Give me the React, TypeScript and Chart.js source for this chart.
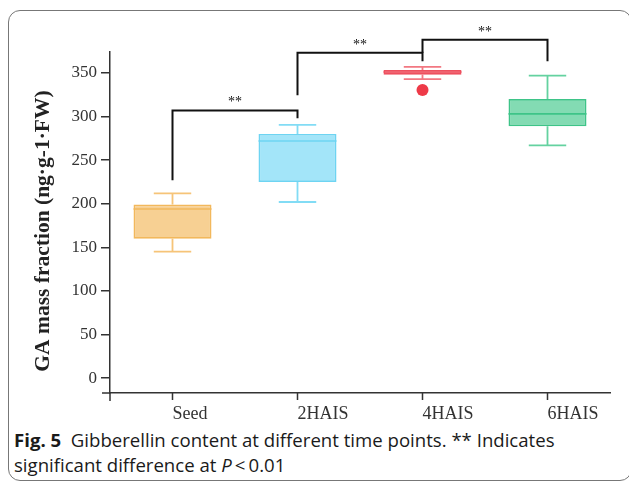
import React, { useEffect, useRef } from "react";
import { Chart, registerables } from "chart.js";

Chart.register(...registerables);

const categories = ["Seed", "2HAIS", "4HAIS", "6HAIS"];
const whiskerLow = [145, 202, 343, 267];
const q1 = [160, 225, 348, 289];
const median = [194, 272, 351, 303];
const q3 = [199, 280, 353.5, 320];
const whiskerHigh = [212, 290.5, 357, 347];
const outlierValues = [null, null, 330.5, null];
const yTicks = [0, 50, 100, 150, 200, 250, 300, 350];

// significance brackets (category indices and values in data units)
const bracketFrom = [0, 1, 2];
const bracketTo = [1, 2, 3];
const bracketTop = [307, 373, 388];
const bracketLeftEnd = [227, 324.5, 373];
const bracketRightEnd = [298, 363.5, 363.5];
const bracketLabel = ["**", "**", "**"];

const fillColors = [
  "rgba(245, 196, 120, 0.8)",
  "rgba(140, 222, 247, 0.8)",
  "rgba(244, 130, 142, 0.8)",
  "rgba(100, 210, 160, 0.8)",
];
const lineColors = [
  "rgba(242, 184, 92, 1)",
  "rgba(110, 212, 242, 1)",
  "rgba(238, 80, 95, 1)",
  "rgba(62, 196, 136, 1)",
];
const whiskerColors = [
  "rgba(246, 196, 120, 1)",
  "rgba(130, 220, 245, 1)",
  "rgba(242, 120, 130, 1)",
  "rgba(100, 210, 160, 1)",
];

const serif = "'Liberation Serif', 'Times New Roman', serif";

const extrasPlugin = {
  id: "boxExtras",
  beforeDatasetsDraw(chart: any) {
    const { ctx, scales } = chart;
    const x = scales.x;
    const y = scales.y;
    const meta = chart.getDatasetMeta(0);
    ctx.save();
    categories.forEach((_, i) => {
      const cx = x.getPixelForValue(i);
      const bw = meta.data[i] ? meta.data[i].width : 78;
      const cap = bw * 0.24;
      ctx.strokeStyle = whiskerColors[i];
      ctx.lineWidth = 1.8;
      ctx.beginPath();
      ctx.moveTo(cx, y.getPixelForValue(q3[i]));
      ctx.lineTo(cx, y.getPixelForValue(whiskerHigh[i]));
      ctx.moveTo(cx, y.getPixelForValue(q1[i]));
      ctx.lineTo(cx, y.getPixelForValue(whiskerLow[i]));
      ctx.moveTo(cx - cap, y.getPixelForValue(whiskerHigh[i]));
      ctx.lineTo(cx + cap, y.getPixelForValue(whiskerHigh[i]));
      ctx.moveTo(cx - cap, y.getPixelForValue(whiskerLow[i]));
      ctx.lineTo(cx + cap, y.getPixelForValue(whiskerLow[i]));
      ctx.stroke();
    });
    ctx.restore();
  },
  afterDatasetsDraw(chart: any) {
    const { ctx, scales } = chart;
    const x = scales.x;
    const y = scales.y;
    const meta = chart.getDatasetMeta(0);
    ctx.save();
    categories.forEach((_, i) => {
      const cx = x.getPixelForValue(i);
      const bw = meta.data[i] ? meta.data[i].width : 78;
      ctx.strokeStyle = lineColors[i];
      ctx.lineWidth = 1.6;
      ctx.beginPath();
      const my = y.getPixelForValue(median[i]);
      ctx.moveTo(cx - bw / 2, my);
      ctx.lineTo(cx + bw / 2, my);
      ctx.stroke();
    });
    ctx.restore();
  },
  afterDraw(chart: any) {
    const { ctx, scales, chartArea } = chart;
    const x = scales.x;
    const y = scales.y;
    ctx.save();
    // axis extensions and outward x ticks
    ctx.strokeStyle = "#333";
    ctx.lineWidth = 1.5;
    ctx.beginPath();
    ctx.moveTo(chartArea.left, chartArea.bottom);
    ctx.lineTo(chartArea.left, chartArea.bottom + 8);
    ctx.moveTo(chartArea.left - 8, chartArea.bottom);
    ctx.lineTo(chartArea.left, chartArea.bottom);
    categories.forEach((_, i) => {
      const px = x.getPixelForValue(i);
      ctx.moveTo(px, chartArea.bottom);
      ctx.lineTo(px, chartArea.bottom + 7);
    });
    ctx.stroke();

    // significance brackets
    ctx.strokeStyle = "#111";
    ctx.lineWidth = 2;
    ctx.fillStyle = "#111";
    ctx.font = `14px ${serif}`;
    ctx.textAlign = "center";
    ctx.textBaseline = "alphabetic";
    bracketFrom.forEach((f, k) => {
      const x1 = x.getPixelForValue(f);
      const x2 = x.getPixelForValue(bracketTo[k]);
      const yt = y.getPixelForValue(bracketTop[k]);
      ctx.beginPath();
      ctx.moveTo(x1, y.getPixelForValue(bracketLeftEnd[k]));
      ctx.lineTo(x1, yt);
      ctx.lineTo(x2, yt);
      ctx.lineTo(x2, y.getPixelForValue(bracketRightEnd[k]));
      ctx.stroke();
      ctx.fillText(bracketLabel[k], (x1 + x2) / 2, yt - 4);
    });

    // y axis title
    ctx.save();
    ctx.translate(43, 231);
    ctx.rotate(-Math.PI / 2);
    ctx.font = `bold 21.5px ${serif}`;
    ctx.fillStyle = "#222";
    ctx.textAlign = "center";
    ctx.textBaseline = "middle";
    ctx.fillText("GA mass fraction (ng·g-1·FW)", 0, 0);
    ctx.restore();
    ctx.restore();
  },
};

export default function App() {
  const canvasRef = useRef<HTMLCanvasElement | null>(null);

  useEffect(() => {
    if (!canvasRef.current) return;
    const chart = new Chart(canvasRef.current, {
      type: "bar",
      data: {
        labels: categories,
        datasets: [
          {
            type: "bar",
            data: categories.map((_, i) => [q1[i], q3[i]]) as any,
            backgroundColor: fillColors,
            borderColor: lineColors,
            borderWidth: 1.6,
            borderSkipped: false,
            categoryPercentage: 1,
            barPercentage: 0.624,
          } as any,
          {
            type: "line",
            data: outlierValues as any,
            showLine: false,
            pointRadius: 6,
            pointBackgroundColor: "#EE3A48",
            pointBorderColor: "#EE3A48",
            pointBorderWidth: 0,
          } as any,
        ],
      },
      options: {
        animation: false,
        responsive: false,
        maintainAspectRatio: false,
        layout: { padding: { top: 52, right: 19, left: 0, bottom: 0 } },
        plugins: {
          legend: { display: false },
          tooltip: { enabled: false },
        },
        scales: {
          x: {
            offset: true,
            grid: { display: false, drawTicks: false },
            border: { display: true, color: "#333", width: 1.5 },
            ticks: {
              align: "start",
              padding: 10,
              color: "#333",
              font: { family: serif, size: 18 },
            },
            afterFit: (s: any) => {
              s.height = 27;
            },
          },
          y: {
            min: -17,
            max: 374,
            afterBuildTicks: (s: any) => {
              s.ticks = yTicks.map((v) => ({ value: v }));
            },
            grid: {
              display: true,
              drawOnChartArea: false,
              drawTicks: true,
              tickLength: 9,
              color: "#333",
              lineWidth: 1.5,
            },
            border: { display: true, color: "#333", width: 1.5 },
            ticks: {
              padding: 4,
              color: "#333",
              font: { family: serif, size: 17 },
            },
            afterFit: (s: any) => {
              s.width = 110;
            },
          },
        },
      } as any,
      plugins: [extrasPlugin],
    });
    return () => chart.destroy();
  }, []);

  return (
    <div
      style={{
        position: "fixed",
        left: 0,
        top: 0,
        width: 629,
        height: 484,
        background: "#fff",
        overflow: "hidden",
      }}
    >
      <div
        style={{
          position: "absolute",
          left: 8,
          top: 10,
          width: 624,
          height: 471,
          border: "1px solid #777",
          borderRadius: 12,
          boxSizing: "border-box",
        }}
      />
      <canvas
        ref={canvasRef}
        width={629}
        height={420}
        style={{ position: "absolute", left: 0, top: 0, width: 629, height: 420 }}
      />
      <div
        style={{
          position: "absolute",
          left: 14,
          top: 427,
          fontFamily: "'Open Sans', 'Noto Sans', sans-serif",
          fontSize: 18.6,
          lineHeight: "25px",
          color: "#1a1a1a",
          whiteSpace: "nowrap",
        }}
      >
        <div>
          <b>Fig. 5</b>&nbsp; Gibberellin content at different time points. ** Indicates
        </div>
        <div>
          significant difference at <i>P</i>&thinsp;&lt;&thinsp;0.01
        </div>
      </div>
    </div>
  );
}
